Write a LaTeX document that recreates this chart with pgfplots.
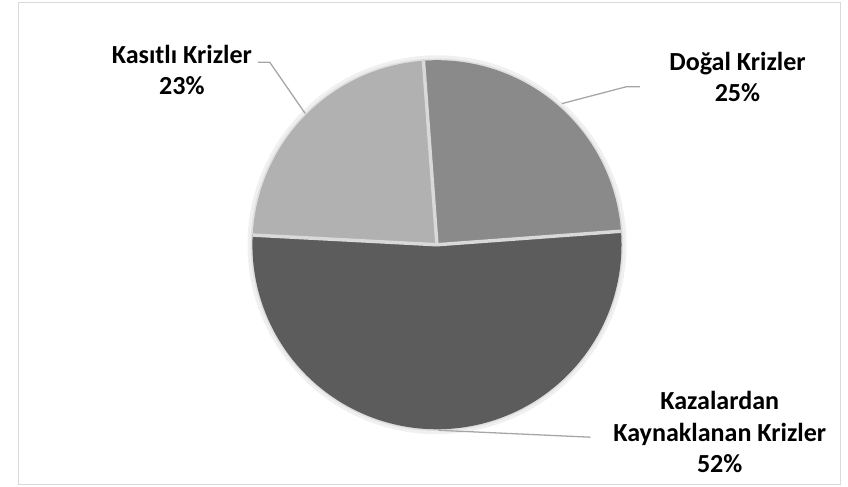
\documentclass[border=0pt]{standalone}
\usepackage{pgfplots}
\usepackage{pgfplotstable}
\pgfplotsset{compat=1.18}
\usepackage{fontspec}
\setmainfont{Carlito}
\definecolor{cDogal}{HTML}{8A8A8A}
\definecolor{cKaza}{HTML}{5C5C5C}
\definecolor{cKasit}{HTML}{B1B1B1}
\definecolor{cSep}{HTML}{D9D9D9}
\definecolor{cLead}{HTML}{A6A6A6}
\definecolor{cBorder}{HTML}{D9D9D9}
\pgfplotstableread{
label pct
Dogal 25
Kazalardan 52
Kasitli 23
}\piedata
\begin{document}
\pgfplotstablegetelem{0}{pct}\of\piedata\let\pA\pgfplotsretval
\pgfplotstablegetelem{1}{pct}\of\piedata\let\pB\pgfplotsretval
\pgfplotstablegetelem{2}{pct}\of\piedata\let\pC\pgfplotsretval
\pgfmathsetmacro\aA{94.2}
\pgfmathsetmacro\aB{\aA-3.6*\pA}
\pgfmathsetmacro\aC{\aB-3.6*\pB}
\pgfmathsetmacro\aD{\aC-3.6*\pC}
\def\cx{431.5}\def\cy{245}\def\rr{187}
\begin{tikzpicture}
\begin{axis}[width=848bp, height=493bp, scale only axis,
  xmin=0, xmax=848, ymin=0, ymax=493, hide axis, clip=false]
\coordinate (LL) at (0,0);
\coordinate (UR) at (848,493);
\draw[cBorder, line width=1bp] (7.5,2) rectangle (840.5,490);
% soft shadow
\addplot[draw=black!6, line width=6bp, domain=0:360, samples=180] ({\cx+(\rr+2)*cos(x)},{\cy+(\rr+2)*sin(x)});
\addplot[draw=black!12, line width=2.5bp, domain=0:360, samples=180] ({\cx+(\rr+0.5)*cos(x)},{\cy+(\rr+0.5)*sin(x)});
% slices
\addplot[fill=cDogal, draw=none, domain=\aB:\aA, samples=120] ({\cx+\rr*cos(x)},{\cy+\rr*sin(x)}) -- (\cx,\cy) -- cycle;
\addplot[fill=cKaza, draw=none, domain=\aC:\aB, samples=200] ({\cx+\rr*cos(x)},{\cy+\rr*sin(x)}) -- (\cx,\cy) -- cycle;
\addplot[fill=cKasit, draw=none, domain=\aD:\aC, samples=120] ({\cx+\rr*cos(x)},{\cy+\rr*sin(x)}) -- (\cx,\cy) -- cycle;
% separators
\addplot[cSep, line width=3.5bp, domain=0:\rr, samples=2] ({\cx+x*cos(\aA)},{\cy+x*sin(\aA)});
\addplot[cSep, line width=3.5bp, domain=0:\rr, samples=2] ({\cx+x*cos(\aB)},{\cy+x*sin(\aB)});
\addplot[cSep, line width=3.5bp, domain=0:\rr, samples=2] ({\cx+x*cos(\aC)},{\cy+x*sin(\aC)});
% leader lines
\draw[cLead, line width=1.3bp] (250,430) -- (262,430) -- (298,378);
\draw[cLead, line width=1.3bp] (558,388) -- (623,405) -- (637,405);
\draw[cLead, line width=1.3bp] (433,57) -- (587,50);
% labels
\tikzset{lbl/.style={anchor=base, inner sep=0pt, font=\bfseries\fontsize{26.5}{32}\selectfont}}
\node[lbl] at (173,429) {Kasıtlı Krizler};
\node[lbl] at (173,397) {23\%};
\node[lbl] at (736,422) {Doğal Krizler};
\node[lbl] at (736,390) {25\%};
\node[lbl] at (718,78) {Kazalardan};
\node[lbl] at (718,46) {Kaynaklanan Krizler};
\node[lbl] at (718,14) {52\%};
\end{axis}
\pgfresetboundingbox
\path (LL) rectangle (UR);
\end{tikzpicture}
\end{document}
